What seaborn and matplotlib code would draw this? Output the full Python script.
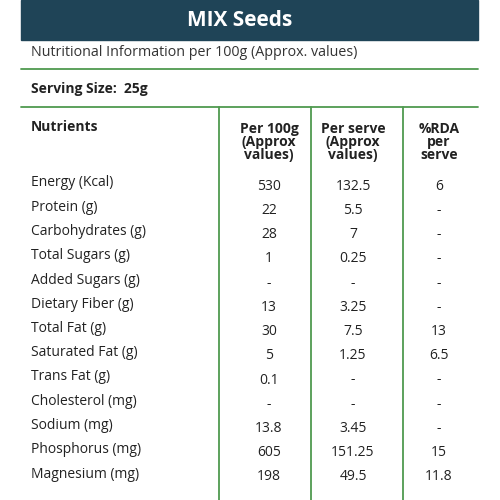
import matplotlib
matplotlib.use("Agg")
import matplotlib.pyplot as plt
import seaborn as sns

sns.set_theme(style="white")
plt.rcParams['font.family'] = ['Open Sans', 'DejaVu Sans']

title = "MIX Seeds"
subtitle = "Nutritional Information per 100g (Approx. values)"
serving = "Serving Size:  25g"
headers = ["Nutrients", "Per 100g\n(Approx\nvalues)", "Per serve\n(Approx\nvalues)", "%RDA\nper\nserve"]
nutrients = ["Energy (Kcal)", "Protein (g)", "Carbohydrates (g)", "Total Sugars (g)",
             "Added Sugars (g)", "Dietary Fiber (g)", "Total Fat (g)", "Saturated Fat (g)",
             "Trans Fat (g)", "Cholesterol (mg)", "Sodium (mg)", "Phosphorus (mg)", "Magnesium (mg)"]
per100 = ["530", "22", "28", "1", "-", "13", "30", "5", "0.1", "-", "13.8", "605", "198"]
perserve = ["132.5", "5.5", "7", "0.25", "-", "3.25", "7.5", "1.25", "-", "-", "3.45", "151.25", "49.5"]
rda = ["6", "-", "-", "-", "-", "-", "13", "6.5", "-", "-", "-", "15", "11.8"]

fig = plt.figure(figsize=(5, 5), dpi=100)
ax = fig.add_axes([0, 0, 1, 1])
ax.set_xlim(0, 500); ax.set_ylim(500, 0); ax.axis('off')

ax.add_patch(plt.Rectangle((21, 0), 457, 40, color='#1f4457'))
ax.text(240, 21, title, color='white', fontsize=15, fontweight='bold', ha='center', va='center')
ax.text(31, 53, subtitle, color='#333333', fontsize=10.3, va='center')
green = '#4f9a4f'
ax.plot([21, 478], [69, 69], color=green, lw=1.3)
ax.text(31, 89, serving, color='#222222', fontsize=10, fontweight='bold', va='center')
ax.plot([21, 478], [107, 107], color=green, lw=1.3)
for x in [219, 311, 403]:
    ax.plot([x, x], [107, 500], color=green, lw=1.3)

ax.text(31, 127, headers[0], fontsize=10, fontweight='bold', va='center', color='#222222')
for x, h in zip([269, 353, 439], headers[1:]):
    ax.text(x, 142, h, fontsize=10, fontweight='bold', ha='center', va='center',
            color='#222222', linespacing=0.95)

for i, (n, a, b, c) in enumerate(zip(nutrients, per100, perserve, rda)):
    y = 183 + i * 24.25
    ax.text(31, y, n, fontsize=10, va='center', color='#222222')
    for x, v in zip([269, 353, 439], [a, b, c]):
        ax.text(x, y + 3, v, fontsize=10, ha='center', va='center', color='#222222')

fig.savefig("out.png", dpi=100, facecolor='white')
